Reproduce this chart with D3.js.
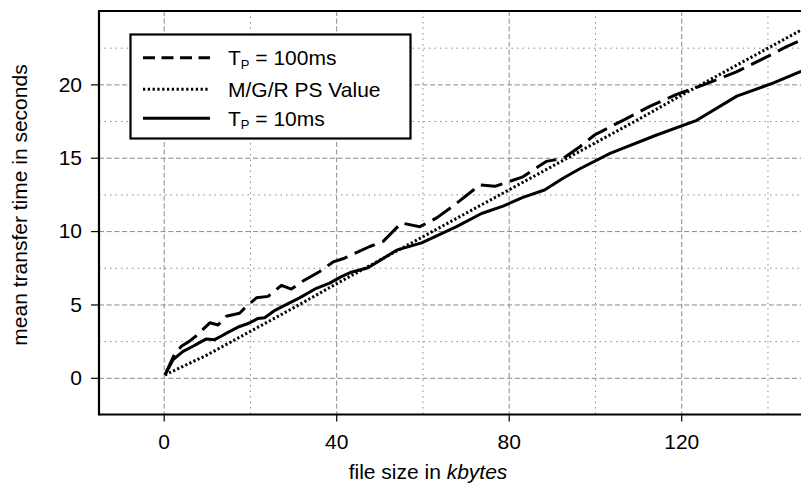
<!DOCTYPE html>
<html>
<head>
<meta charset="utf-8">
<script src="https://cdn.jsdelivr.net/npm/d3@7"></script>
<style>
  body { margin: 0; background: #fff; }
  svg { display: block; }
  text { font-family: "Liberation Sans", Arial, Helvetica, sans-serif; fill: #000; }
</style>
</head>
<body>
<svg id="chart" width="801" height="486"></svg>
<script>
// Axis ticks
const xTicks = [0, 40, 80, 120];
const xMinorTicks = [20, 60, 100, 140];
const yTicks = [0, 5, 10, 15, 20];
const yMinorTicks = [2.5, 7.5, 12.5, 17.5, 22.5];

// Simulated mean transfer time, propagation delay 100 ms
const tp100X = [0.3, 2.5, 4.1, 6.0, 7.5, 10.7, 12.6, 14.5, 17.6, 19.1, 21.5, 24.2, 27.3, 29.6, 32.3, 36.2, 39.3, 41.9, 47.8, 50.9, 55.1, 59.4, 63.3, 67.5, 73.3, 76.8, 83.3, 88.7, 92.6, 96.5, 99.9, 106.5, 112.7, 118.8, 125.0, 132.8, 139.7, 144.3, 150];
const tp100Y = [0.2, 1.6, 2.15, 2.5, 2.85, 3.75, 3.6, 4.2, 4.4, 4.85, 5.45, 5.55, 6.3, 6.05, 6.6, 7.25, 7.9, 8.15, 8.95, 9.3, 10.55, 10.3, 10.9, 11.8, 13.15, 13.05, 13.7, 14.75, 14.95, 15.75, 16.55, 17.55, 18.5, 19.3, 19.95, 20.85, 21.85, 22.55, 23.3];

// Analytical M/G/R processor-sharing value
const psX = [0.3, 10, 20, 30, 40, 50, 60, 70, 80, 90, 100, 110, 120, 130, 140, 150];
const psY = [0.2, 1.55, 3.15, 4.75, 6.4, 8.0, 9.6, 11.2, 12.8, 14.4, 16.0, 17.6, 19.25, 20.85, 22.45, 24.05];

// Simulated mean transfer time, propagation delay 10 ms
const tp10X = [0.3, 2.2, 4.5, 6.8, 8.3, 9.9, 11.8, 13.4, 14.9, 17.6, 19.6, 21.9, 23.4, 25.8, 28.5, 31.5, 35.4, 38.5, 41.2, 43.5, 47.4, 54.0, 59.8, 67.9, 73.7, 78.7, 83.3, 88.3, 92.6, 96.5, 103.5, 114.3, 123.6, 132.9, 141.4, 150];
const tp10Y = [0.2, 1.25, 1.8, 2.15, 2.4, 2.65, 2.6, 2.85, 3.1, 3.5, 3.7, 4.05, 4.1, 4.6, 5.0, 5.45, 6.1, 6.45, 6.9, 7.2, 7.5, 8.7, 9.2, 10.3, 11.2, 11.7, 12.3, 12.8, 13.6, 14.25, 15.3, 16.55, 17.55, 19.2, 20.1, 21.15];

const series = [
  { name: "tp100", label: "100ms", xs: tp100X, ys: tp100Y, dash: "22,8", legendDash: "12,6.5" },
  { name: "ps", label: "M/G/R PS Value", xs: psX, ys: psY, dash: "2.2,2.3", legendDash: "2.2,2.6" },
  { name: "tp10", label: "10ms", xs: tp10X, ys: tp10Y, dash: null, legendDash: null }
];

const FONT = 21;
const svg = d3.select("#chart");
const plotLeft = 99, plotTop = 11, plotBottom = 414.5, plotRight = 810.6;

const x = d3.scaleLinear().domain([-15, 150]).range([plotLeft, plotRight]);
const y = d3.scaleLinear().domain([-2.5, 25]).range([plotBottom, plotTop]);

svg.append("defs").append("clipPath").attr("id", "plotClip")
  .append("rect").attr("x", plotLeft).attr("y", plotTop)
  .attr("width", plotRight - plotLeft).attr("height", plotBottom - plotTop);

const grid = svg.append("g").attr("stroke", "#8a8a8a").attr("stroke-width", 1).attr("fill", "none");

// minor grid (dotted)
grid.selectAll("line.vmin").data(xMinorTicks).join("line")
  .attr("class", "vmin")
  .attr("x1", d => x(d) + 0.5).attr("x2", d => x(d) + 0.5)
  .attr("y1", plotTop).attr("y2", plotBottom)
  .attr("stroke-dasharray", "1.5,4");
grid.selectAll("line.hmin").data(yMinorTicks).join("line")
  .attr("class", "hmin")
  .attr("x1", plotLeft).attr("x2", plotRight)
  .attr("y1", d => y(d) + 0.5).attr("y2", d => y(d) + 0.5)
  .attr("stroke-dasharray", "1.5,4");

// major grid (dashed)
grid.selectAll("line.vmaj").data(xTicks).join("line")
  .attr("class", "vmaj")
  .attr("x1", d => x(d) + 0.5).attr("x2", d => x(d) + 0.5)
  .attr("y1", plotTop).attr("y2", plotBottom)
  .attr("stroke-dasharray", "5,2.7");
grid.selectAll("line.hmaj").data(yTicks).join("line")
  .attr("class", "hmaj")
  .attr("x1", plotLeft).attr("x2", plotRight)
  .attr("y1", d => y(d) + 0.5).attr("y2", d => y(d) + 0.5)
  .attr("stroke-dasharray", "5,2.7");

// data lines
const line = d3.line().x(d => x(d[0])).y(d => y(d[1]));
const plot = svg.append("g").attr("clip-path", "url(#plotClip)");
series.forEach(s => {
  const pts = s.xs.map((v, i) => [v, s.ys[i]]);
  plot.append("path")
    .datum(pts)
    .attr("d", line)
    .attr("fill", "none")
    .attr("stroke", "#000")
    .attr("stroke-width", 3)
    .attr("stroke-linejoin", "round")
    .attr("stroke-dasharray", s.dash);
});

// axes
const yAxis = svg.append("g").attr("transform", `translate(${plotLeft},0)`)
  .call(d3.axisLeft(y).tickValues(yTicks).tickSize(8).tickPadding(9).tickFormat(d3.format("d")));
const xAxis = svg.append("g").attr("transform", `translate(0,${plotBottom})`)
  .call(d3.axisBottom(x).tickValues(xTicks).tickSize(7).tickPadding(13).tickFormat(d3.format("d")));
[yAxis, xAxis].forEach(a => {
  a.select(".domain").remove();
  a.selectAll(".tick line").attr("stroke", "#000").attr("stroke-width", 1.2);
  a.selectAll(".tick text").attr("font-size", FONT).attr("font-family", null);
});

// frame
const frame = svg.append("g").attr("stroke", "#000").attr("stroke-width", 2.2).attr("fill", "none");
frame.append("line").attr("x1", plotLeft).attr("x2", plotLeft).attr("y1", plotTop - 1.1).attr("y2", plotBottom + 1.1);
frame.append("line").attr("x1", plotLeft).attr("x2", 801).attr("y1", plotTop).attr("y2", plotTop);
frame.append("line").attr("x1", plotLeft).attr("x2", 801).attr("y1", plotBottom).attr("y2", plotBottom);

// axis titles
svg.append("text")
  .attr("transform", "translate(27,205) rotate(-90)")
  .attr("text-anchor", "middle")
  .attr("font-size", FONT)
  .text("mean transfer time in seconds");

const xt = svg.append("text")
  .attr("x", 428).attr("y", 479)
  .attr("text-anchor", "middle")
  .attr("font-size", FONT);
xt.append("tspan").text("file size in ");
xt.append("tspan").attr("font-style", "italic").text("kbytes");

// legend
const lg = svg.append("g");
lg.append("rect").attr("x", 130.5).attr("y", 34.5).attr("width", 280).attr("height", 104)
  .attr("fill", "#fff").attr("stroke", "#000").attr("stroke-width", 2.2);
const rowY = [57.7, 89.3, 118.3];
series.forEach((s, i) => {
  lg.append("line")
    .attr("x1", 143).attr("x2", 210)
    .attr("y1", rowY[i]).attr("y2", rowY[i])
    .attr("stroke", "#000").attr("stroke-width", 3)
    .attr("stroke-dasharray", s.legendDash);
  const t = lg.append("text").attr("x", 228).attr("y", rowY[i] + 7.5).attr("font-size", FONT);
  if (s.name === "ps") {
    t.text(s.label);
  } else {
    t.append("tspan").text("T");
    t.append("tspan").attr("font-size", 13).attr("dy", 3.5).text("P");
    t.append("tspan").attr("dy", -3.5).text(" = " + s.label);
  }
});
</script>
</body>
</html>
